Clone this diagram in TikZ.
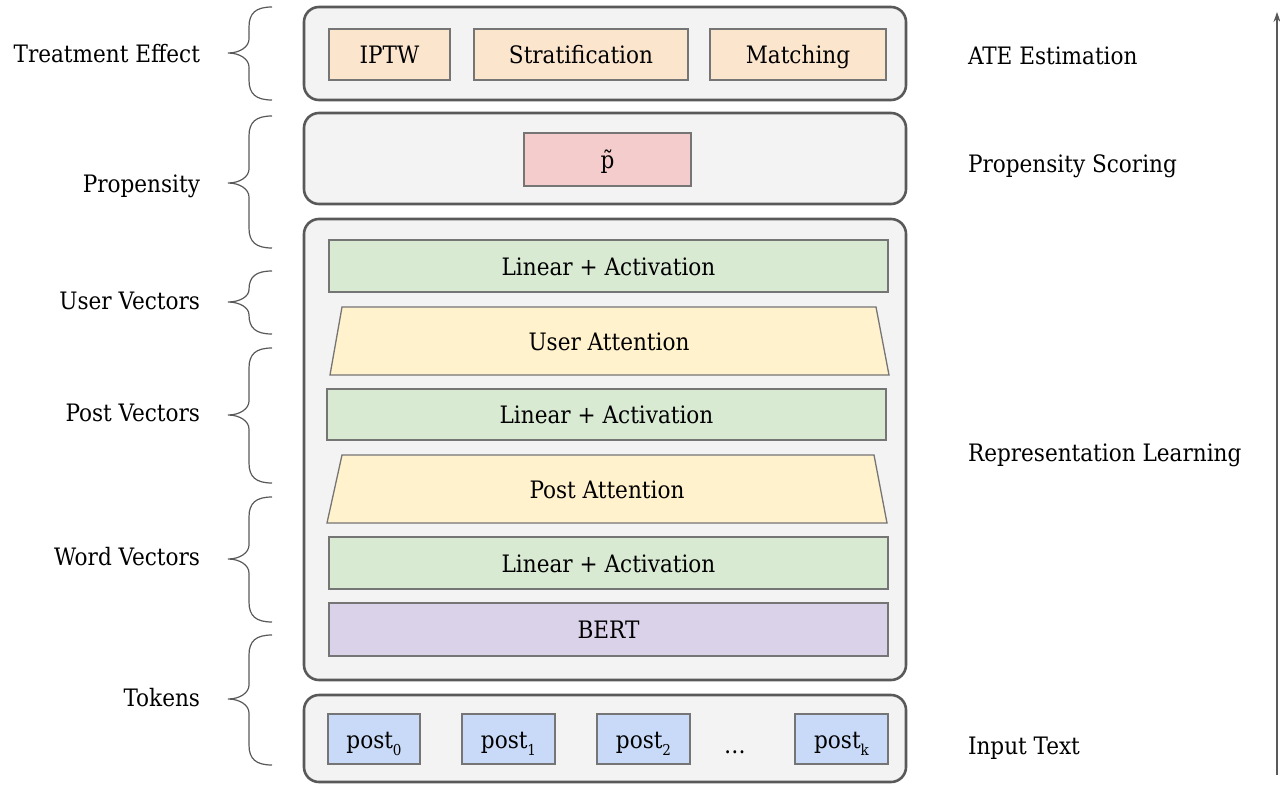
\documentclass[tikz,border=0pt]{standalone}
\usepackage{fontspec}
\setmainfont{DejaVu Serif Condensed}
\usetikzlibrary{arrows.meta}
\definecolor{outerfill}{HTML}{F3F3F3}
\definecolor{outerline}{HTML}{595959}
\definecolor{innerline}{HTML}{757575}
\definecolor{cOrange}{HTML}{FCE5CD}
\definecolor{cRed}{HTML}{F4CCCC}
\definecolor{cGreen}{HTML}{D9EAD3}
\definecolor{cYellow}{HTML}{FFF2CC}
\definecolor{cPurple}{HTML}{D9D2E9}
\definecolor{cBlue}{HTML}{C9DAF8}
\newcommand\drawbrace[3]{% top, center, bottom
  \pgfmathsetmacro\ba{min(20,0.6*(#2-#1))}%
  \pgfmathsetmacro\bb{min(14,0.4*(#2-#1))}%
  \pgfmathsetmacro\bc{min(20,0.6*(#3-#2))}%
  \pgfmathsetmacro\bd{min(14,0.4*(#3-#2))}%
  \draw[bracestyle] (272,#1) .. controls (256,#1) and (249,{#1+0.3*\ba}) .. (249,{#1+\ba})
    -- (249,{#2-\bb}) .. controls (249,{#2-0.45*\bb}) and (240,#2) .. (228,#2)
    .. controls (240,#2) and (249,{#2+0.45*\bd}) .. (249,{#2+\bd})
    -- (249,{#3-\bc}) .. controls (249,{#3-0.3*\bc}) and (256,#3) .. (272,#3);}
\begin{document}
\begin{tikzpicture}[x=1pt,y=-1pt,
  every node/.style={font=\fontsize{24}{29}\selectfont, inner sep=0pt, outer sep=0pt},
  txt/.style={text height=22pt, text depth=4pt},
  outerbox/.style={draw=outerline, fill=outerfill, line width=2.6pt, rounded corners=15pt, anchor=north west},
  innerbox/.style={draw=innerline, line width=1.3pt, anchor=north west},
  trap/.style={draw=innerline, line width=1.3pt, fill=cYellow},
  bracestyle/.style={draw=outerline, line width=1.2pt},
  lbl/.style={txt, anchor=east},
  rlbl/.style={txt, anchor=west}]
\useasboundingbox (0,0) rectangle (1280,790);
% outer boxes
\node[outerbox, minimum width=602pt, minimum height=93pt] (ate) at (304,7) {};
\node[outerbox, minimum width=602pt, minimum height=91pt] (prop) at (304,113) {};
\node[outerbox, minimum width=602pt, minimum height=461pt] (rep) at (304,219) {};
\node[outerbox, minimum width=602pt, minimum height=87pt] (inp) at (304,695) {};
% treatment effect boxes
\node[innerbox, fill=cOrange, minimum width=121pt, minimum height=51pt] (iptw) at (329,29) {};
\node[txt] at (iptw.center) (iptwt) {IPTW};
\node[innerbox, fill=cOrange, minimum width=214pt, minimum height=51pt] (strat) at (474,29) {};
\node[txt] at (strat.center) (stratt) {Stratification};
\node[innerbox, fill=cOrange, minimum width=176pt, minimum height=51pt] (match) at (710,29) {};
\node[txt] at (match.center) (matcht) {Matching};
% propensity
\node[innerbox, fill=cRed, minimum width=167pt, minimum height=53pt] (ptil) at (524,133) {};
\node[txt] at (ptil.center) (ptilt) {\~{p}};
% representation learning
\node[innerbox, fill=cGreen, minimum width=559pt, minimum height=52pt] (lin1) at (329,240) {};
\node[txt] at (lin1.center) (lin1t) {Linear + Activation};
\path[trap] (342,307) -- (876,307) -- (889,375) -- (330,375) -- cycle;
\node[txt] (uat) at (609,341) {User Attention};
\node[innerbox, fill=cGreen, minimum width=559pt, minimum height=51pt] (lin2) at (327,389) {};
\node[txt] at (lin2.center) (lin2t) {Linear + Activation};
\path[trap] (342,455) -- (874,455) -- (887,523) -- (327,523) -- cycle;
\node[txt] (pat) at (607,489) {Post Attention};
\node[innerbox, fill=cGreen, minimum width=559pt, minimum height=52pt] (lin3) at (329,537) {};
\node[txt] at (lin3.center) (lin3t) {Linear + Activation};
\node[innerbox, fill=cPurple, minimum width=559pt, minimum height=53pt] (bert) at (329,603) {};
\node[txt] at (bert.center) (bertt) {BERT};
% input posts
\newcommand\postlbl[1]{post\raisebox{-0.3em}{\fontsize{15}{15}\selectfont #1}}
\node[innerbox, fill=cBlue, minimum width=92pt, minimum height=50pt] (p0) at (328,714) {};
\node[txt] at (p0.center) (p0t) {\postlbl{0}};
\node[innerbox, fill=cBlue, minimum width=93pt, minimum height=50pt] (p1) at (462,714) {};
\node[txt] at (p1.center) (p1t) {\postlbl{1}};
\node[innerbox, fill=cBlue, minimum width=93pt, minimum height=50pt] (p2) at (597,714) {};
\node[txt] at (p2.center) (p2t) {\postlbl{2}};
\node (dots) at (735,752) {\dots};
\node[innerbox, fill=cBlue, minimum width=93pt, minimum height=50pt] (pk) at (795,714) {};
\node[txt] at (pk.center) (pkt) {\postlbl{k}};
% left labels
\node[lbl] (l1) at (200,53) {Treatment Effect};
\node[lbl] (l2) at (200,183) {Propensity};
\node[lbl] (l3) at (200,300) {User Vectors};
\node[lbl] (l4) at (200,412) {Post Vectors};
\node[lbl] (l5) at (200,556) {Word Vectors};
\node[lbl] (l6) at (200,697) {Tokens};
% braces
\drawbrace{7}{53}{100}
\drawbrace{116}{183}{248}
\drawbrace{271}{302}{334}
\drawbrace{348}{415}{483}
\drawbrace{497}{559}{622}
\drawbrace{635}{699}{765}
% right labels
\node[rlbl] (r1) at (968,55) {ATE Estimation};
\node[rlbl] (r2) at (968,163) {Propensity Scoring};
\node[rlbl] (r3) at (968,452) {Representation Learning};
\node[rlbl] (r4) at (968,745) {Input Text};
% arrow
\coordinate (abot) at (1277,775);
\coordinate (atop) at (1277,12);
\draw[draw=outerline, line width=1.2pt, -{Stealth[length=10pt,width=7pt]}] (abot) -- (atop);
\end{tikzpicture}
\end{document}
